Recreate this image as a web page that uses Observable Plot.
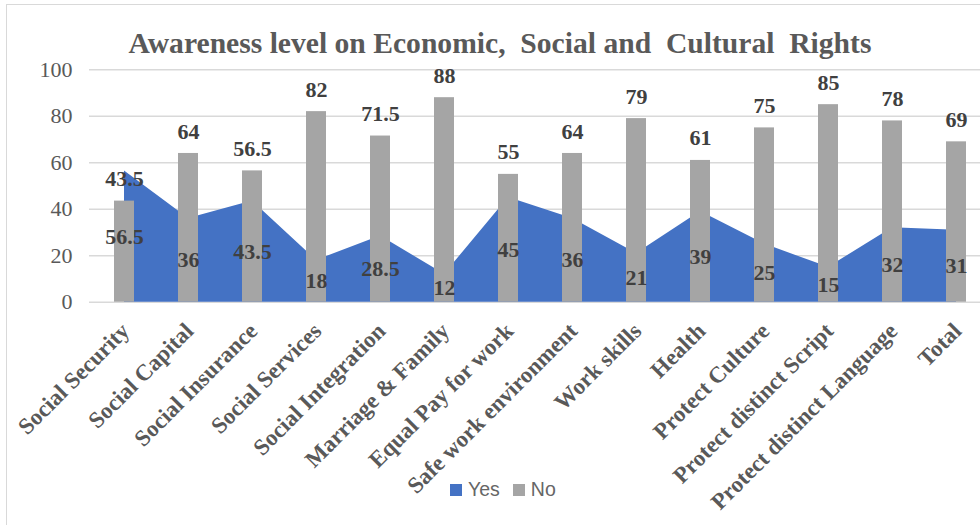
<!DOCTYPE html>
<html><head><meta charset="utf-8">
<script src="https://cdn.jsdelivr.net/npm/d3@7"></script>
<script src="https://cdn.jsdelivr.net/npm/@observablehq/plot@0.6"></script>
<style>
body{margin:0;background:#fff;}
#wrap{position:relative;width:980px;height:525px;overflow:hidden;background:#fff;}
#frame{position:absolute;left:6px;top:4px;width:1100px;height:700px;border:1.5px solid #d9d9d9;box-sizing:border-box;}
#title{position:absolute;left:0;width:1000px;top:28.5px;text-align:center;font-family:"Liberation Serif";font-weight:bold;font-size:29.6px;color:#595959;white-space:pre;line-height:1;}
#chart{position:absolute;left:0;top:0;width:990px;}
#chart svg{max-width:none !important;}
#legend{position:absolute;left:450px;top:480px;height:20px;display:flex;align-items:center;font-family:"Liberation Sans";font-size:19.5px;line-height:1;color:#666;}
.sw{display:inline-block;width:12px;height:12px;margin-right:6px;}
</style></head>
<body>
<div id="wrap">
  <div id="frame"></div>
  <div id="chart"></div>
  <div id="title"></div>
  <div id="legend"></div>
</div>
<script>
const titleText = "Awareness level on Economic,  Social and  Cultural  Rights";
const categories = ["Social Security","Social Capital","Social Insurance","Social Services","Social Integration","Marriage & Family","Equal Pay for work","Safe work environment","Work skills","Health","Protect Culture","Protect distinct Script","Protect distinct Language","Total"];
const yes = [56.5,36,43.5,18,28.5,12,45,36,21,39,25,15,32,31];
const no  = [43.5,64,56.5,82,71.5,88,55,64,79,61,75,85,78,69];
const yTicks = [0,20,40,60,80,100];
const seriesNames = ["Yes","No"];
const seriesColors = ["#4472c4","#a5a5a5"];

const data = categories.map((c,i)=>({category:c, yes:yes[i], no:no[i]}));

document.getElementById("title").textContent = titleText;

const chart = Plot.plot({
  width: 990, height: 470,
  marginLeft: 89, marginRight: 0, marginTop: 69.3, marginBottom: 168.3,
  style: {fontFamily: "Liberation Serif", background: "transparent", overflow: "visible", maxWidth: "none"},
  x: {domain: categories, paddingInner: 0.69, paddingOuter: 0.345, label: null},
  y: {domain: [0,100], label: null},
  marks: [
    Plot.gridY(yTicks, {stroke: "#d9d9d9", strokeOpacity: 1, strokeWidth: 1.4}),
    Plot.areaY(data, {x: "category", y: "yes", fill: seriesColors[0], curve: "linear"}),
    Plot.barY(data, {x: "category", y: "no", fill: seriesColors[1]}),
    Plot.text(data, {x: "category", y: "no", text: d => String(d.no), dy: -22, fontSize: 22, fontWeight: "bold", fill: "#404040"}),
    Plot.text(data, {x: "category", y: d => d.yes / 2, text: d => String(d.yes), fontSize: 22, fontWeight: "bold", fill: "#404040"}),
    Plot.axisY(yTicks, {tickSize: 0, tickPadding: 17, fontSize: 22, fill: "#595959", label: null}),
    Plot.axisX({tickSize: 0, tickRotate: -45, tickPadding: 25, dx: 1, fontSize: 23, fontWeight: "bold", fill: "#595959", label: null})
  ]
});
chart.style.maxWidth = "none";
document.getElementById("chart").appendChild(chart);

const legend = document.getElementById("legend");
seriesNames.forEach((n,i)=>{
  const item = document.createElement("span");
  item.style.display = "inline-flex";
  item.style.alignItems = "center";
  item.style.marginRight = i === 0 ? "13px" : "0";
  const sw = document.createElement("span");
  sw.className = "sw";
  sw.style.background = seriesColors[i];
  item.appendChild(sw);
  item.appendChild(document.createTextNode(n));
  legend.appendChild(item);
});
</script>
</body></html>
